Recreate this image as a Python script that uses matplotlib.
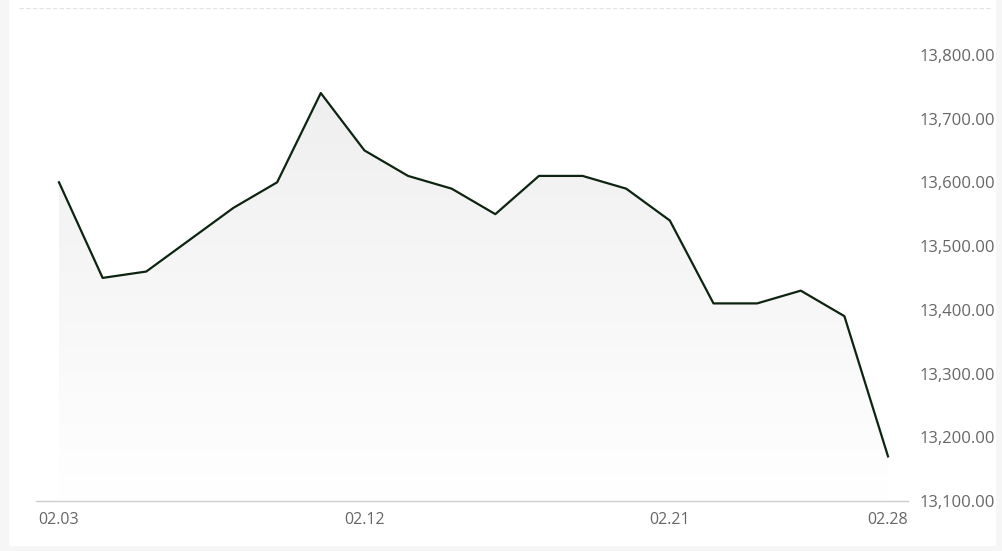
import numpy as np
import matplotlib
matplotlib.use("Agg")
import matplotlib.pyplot as plt
from matplotlib.patches import Rectangle, Polygon
from matplotlib.lines import Line2D

# trading days, Feb
dates = ["02.03", "02.04", "02.05", "02.06", "02.07",
         "02.10", "02.11", "02.12", "02.13", "02.14",
         "02.17", "02.18", "02.19", "02.20", "02.21",
         "02.24", "02.25", "02.26", "02.27", "02.28"]
values = [13600, 13450, 13460, 13510, 13560,
          13600, 13740, 13650, 13610, 13590,
          13550, 13610, 13610, 13590, 13540,
          13410, 13410, 13430, 13390, 13170]
yticks = [13100, 13200, 13300, 13400, 13500, 13600, 13700, 13800]
shown = ["02.03", "02.12", "02.21", "02.28"]

W, H = 1002, 551
plt.rcParams['font.family'] = ['Open Sans', 'DejaVu Sans']
fig = plt.figure(figsize=(W / 100, H / 100), dpi=100)
fig.patch.set_facecolor("#f6f6f6")

# white card
card = Rectangle((9 / W, 1 - 546 / H), (996 - 9) / W, 546 / H,
                 transform=fig.transFigure, facecolor="white",
                 edgecolor="none", zorder=-5)
fig.add_artist(card)

ax = fig.add_axes([36 / W, 1 - 501 / H, (908 - 36) / W, (501 - 7) / H])
ax.set_facecolor("none")

x = np.arange(len(values))
ax.set_xlim(-0.527, 19.458)
ax.set_ylim(13100, 13875)

# gradient under the line
grad = np.linspace(0, 1, 256).reshape(-1, 1)
cmap = matplotlib.colors.LinearSegmentedColormap.from_list("g", ["#ffffff", "#efefef"])
img = ax.imshow(grad, aspect="auto", cmap=cmap,
                extent=[x[0], x[-1], 13100, max(values)],
                origin="lower", zorder=1)
poly = Polygon(np.column_stack([np.r_[x, x[-1], x[0]],
                                np.r_[values, 13100, 13100]]),
               closed=True, transform=ax.transData, facecolor="none", edgecolor="none")
ax.add_patch(poly)
img.set_clip_path(poly)

ax.plot(x, values, color="#0c2410", lw=1.6, zorder=3)

# top dashed line across the card
fig.add_artist(Line2D([19 / W, 992 / W], [1 - 7.5 / H, 1 - 7.5 / H],
                      transform=fig.transFigure, color="#e2e2e2",
                      lw=0.8, ls=(0, (4, 2))))

for s in ["top", "left", "right"]:
    ax.spines[s].set_visible(False)
ax.spines["bottom"].set_color("#cccccc")
ax.spines["bottom"].set_linewidth(1)

ax.set_xticks([dates.index(d) for d in shown])
ax.set_xticklabels(shown)
ax.yaxis.tick_right()
ax.set_yticks(yticks)
ax.set_yticklabels([f"{v:,.2f}" for v in yticks])
ax.tick_params(axis="both", length=0, colors="#666666")
ax.tick_params(axis="x", pad=8, labelsize=11.5)
ax.tick_params(axis="y", pad=8.5, labelsize=12)

# hide the overflow beyond the card edge
fig.add_artist(Rectangle((996 / W, 0), 6 / W, 1, transform=fig.transFigure,
                         facecolor="#f6f6f6", edgecolor="none", zorder=10))

fig.savefig("out.png", dpi=100)
